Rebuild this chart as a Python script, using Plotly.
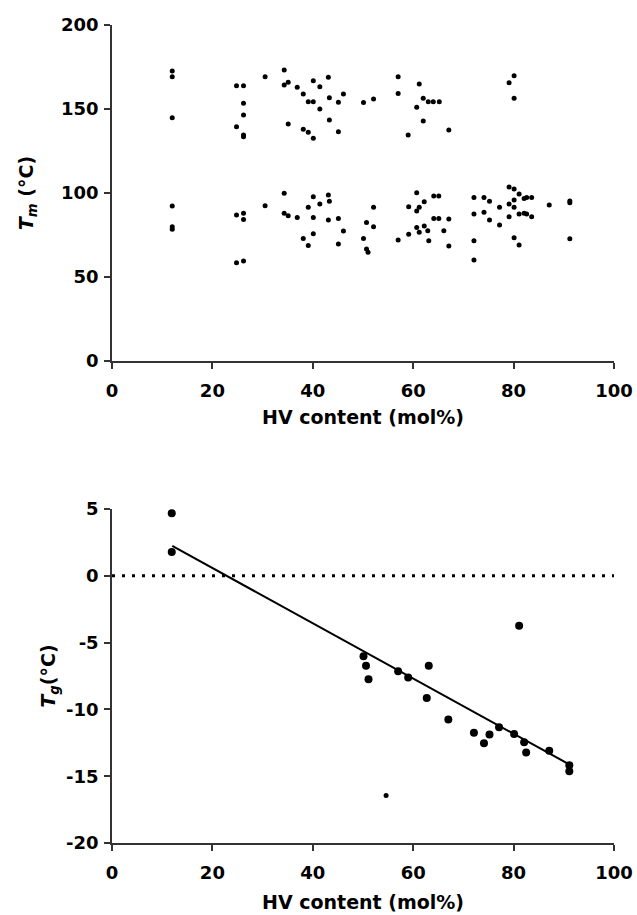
import plotly.graph_objects as go

# ---- Data: Tm vs HV content ----
tm_hv = [12, 12, 30.5, 24.8, 26.2, 26.2, 12, 26.2, 24.8, 26.2, 26.2,
         34.3, 34.3, 35.1, 36.9, 38.1, 39.1, 40.1, 40.1, 41.4, 43.1, 43.3, 41.4, 45.1, 46.1,
         43.3, 35.1, 38.1, 39.1, 40.1, 45.1, 50.1, 52.1, 57.0, 57.0, 61.2, 62.0, 63.0, 64.0,
         65.2, 60.7, 62.0, 59.0, 67.1, 80.1, 79.1, 80.1,
         12, 12, 12, 24.8, 26.2, 26.2, 30.5, 24.8, 26.2,
         34.3, 34.3, 35.1, 36.9, 40.1, 39.1, 41.4, 43.1, 43.3, 40.1, 43.1, 45.1, 46.1, 40.1,
         38.1, 39.1, 45.1, 52.1, 50.7, 52.1, 50.1, 50.7, 51.0, 57.0, 59.1, 59.1, 60.7, 60.7,
         61.2, 62.2, 64.1, 65.1, 64.1, 65.1, 67.1, 60.7, 62.2, 61.2, 62.9, 66.1, 63.1, 67.1,
         72.1, 72.1, 72.1, 72.1, 74.1, 75.2, 74.1, 75.2, 77.2, 77.2, 79.1, 80.1, 81.1, 80.1,
         79.1, 80.1, 82.1, 82.6, 83.6, 81.1, 82.1, 82.6, 83.6, 79.1, 80.1, 81.1, 87.1, 91.2,
         91.2, 91.2]
tm_val = [172.6, 169.2, 169.2, 163.9, 163.9, 153.4, 144.8, 146.4, 139.5, 134.5, 133.5,
          173.2, 164.3, 165.9, 162.9, 158.9, 154.3, 154.3, 166.8, 163.3, 168.9, 156.7, 150.0, 154.0, 158.9,
          143.5, 141.1, 137.9, 136.1, 132.6, 136.5, 153.8, 156.0, 169.2, 159.3, 164.9, 156.4, 154.3, 154.3,
          154.3, 151.0, 142.9, 134.5, 137.5, 169.8, 165.7, 156.4,
          92.3, 79.9, 78.4, 86.9, 87.9, 84.3, 92.4, 58.5, 59.5,
          99.8, 87.9, 86.5, 85.5, 97.8, 91.5, 93.5, 98.8, 95.1, 85.5, 83.9, 84.9, 77.4, 75.8,
          73.0, 68.8, 69.6, 91.5, 82.5, 79.9, 73.0, 66.7, 64.7, 72.0, 75.4, 91.9, 100.2, 89.3,
          91.5, 94.8, 98.2, 98.2, 84.9, 84.9, 84.5, 79.5, 80.4, 76.6, 77.6, 77.6, 71.6, 68.5,
          97.4, 87.5, 71.6, 60.1, 97.4, 95.1, 88.5, 83.9, 91.5, 81.0, 103.6, 102.4, 99.4, 95.8,
          93.5, 91.5, 96.8, 97.4, 97.4, 87.5, 87.9, 87.5, 85.9, 85.9, 73.4, 69.0, 92.9, 95.2,
          94.2, 72.8]

# ---- Data: Tg vs HV content ----
tg_hv = [11.9, 11.9, 50.1, 50.6, 51.1, 57.0, 59.0, 63.1, 62.7, 67.0, 72.1, 74.1, 75.2,
         77.1, 80.1, 82.1, 82.5, 87.1, 91.1, 91.1, 81.1]
tg_val = [4.68, 1.79, -6.02, -6.74, -7.74, -7.14, -7.61, -6.74, -9.15, -10.75, -11.74,
          -12.54, -11.87, -11.34, -11.84, -12.46, -13.23, -13.09, -14.18, -14.63, -3.73]
tg_small_hv = [54.6]
tg_small_val = [-16.44]

fit_hv = [12, 91]
fit_val = [2.24, -14.1]

zero_hv = [0, 100]
zero_val = [0, 0]

x_ticks = [0, 20, 40, 60, 80, 100]
tm_ticks = [0, 50, 100, 150, 200]
tg_ticks = [-20, -15, -10, -5, 0, 5]
tg_ticklabels = ["-20", "-15", "-10", "-5", "0", "5"]

FONT = "DejaVu Sans"
AX = "#333333"

fig = go.Figure()
fig.add_trace(go.Scatter(x=tm_hv, y=tm_val, mode="markers",
                         marker=dict(size=5, color="black"), xaxis="x", yaxis="y",
                         showlegend=False))
fig.add_trace(go.Scatter(x=zero_hv, y=zero_val, mode="lines",
                         line=dict(color="black", width=3, dash="3px,7px"),
                         xaxis="x2", yaxis="y2", showlegend=False))
fig.add_trace(go.Scatter(x=fit_hv, y=fit_val, mode="lines",
                         line=dict(color="black", width=2),
                         xaxis="x2", yaxis="y2", showlegend=False))
fig.add_trace(go.Scatter(x=tg_hv, y=tg_val, mode="markers",
                         marker=dict(size=8, color="black"), xaxis="x2", yaxis="y2",
                         showlegend=False))
fig.add_trace(go.Scatter(x=tg_small_hv, y=tg_small_val, mode="markers",
                         marker=dict(size=5, color="black"), xaxis="x2", yaxis="y2",
                         showlegend=False))

tickfont = dict(family=FONT, size=18, color="black", weight=700)
titlefont = dict(family=FONT, size=19, color="black", weight=700)

common_x = dict(range=[0, 100], tickvals=x_ticks, showline=True, linecolor=AX, linewidth=1.5,
                ticks="outside", ticklen=6, tickwidth=1.5, tickcolor=AX, showgrid=False,
                zeroline=False, tickfont=tickfont, ticklabelstandoff=7, automargin=False)
common_y = dict(showline=True, linecolor=AX, linewidth=1.5, ticks="outside", ticklen=6,
                tickwidth=1.5, tickcolor=AX, showgrid=False, zeroline=False, tickfont=tickfont,
                ticklabelstandoff=2, automargin=False)

fig.update_layout(
    width=637, height=915,
    margin=dict(l=112, r=23, t=25, b=72),
    plot_bgcolor="white", paper_bgcolor="white",
    xaxis=dict(**common_x, anchor="y",
               title=dict(text="<b>HV content (mol%)</b>", font=titlefont, standoff=10)),
    yaxis=dict(**common_y, range=[0, 200], tickvals=tm_ticks, domain=[0.5892, 1.0], anchor="x",
               title=dict(text="<b><i>T</i><sub><i>m</i></sub> (°C)</b>", font=titlefont, standoff=22)),
    xaxis2=dict(**common_x, anchor="y2",
                title=dict(text="<b>HV content (mol%)</b>", font=titlefont, standoff=13)),
    yaxis2=dict(**common_y, range=[-20, 5], tickvals=tg_ticks, ticktext=tg_ticklabels,
                domain=[0.0, 0.4083], anchor="x2",
                title=dict(text="<b><i>T</i><sub><i>g</i></sub>(°C)</b>", font=titlefont, standoff=5)),
)

fig.write_html("out.html")
